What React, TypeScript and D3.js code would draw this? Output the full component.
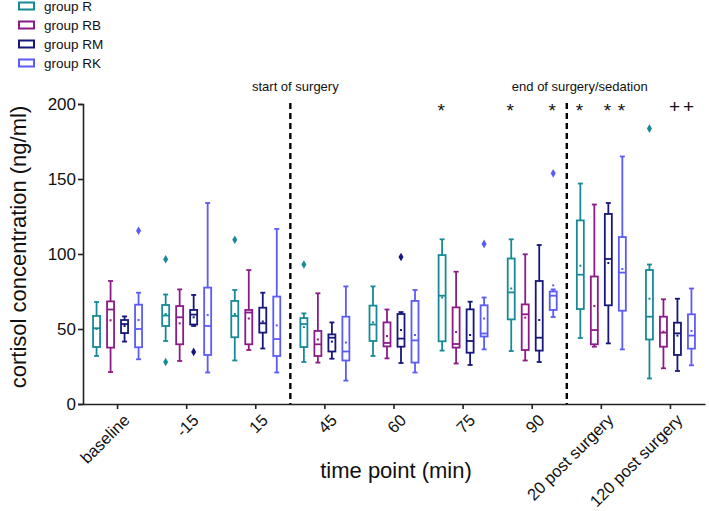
import { useEffect, useRef } from 'react';
import * as d3 from 'd3';

// time points on the x axis
const categories = ['baseline', '-15', '15', '45', '60', '75', '90', '20 post surgery', '120 post surgery'];
const groups = ['group R', 'group RB', 'group RM', 'group RK'];
const colors = ['#178a98', '#8c1b87', '#17177d', '#5b5bf7'];

// per time point: [whisker low, q1, median, q3, whisker high, mean]
const statsR = [
    [32, 38, 50.5, 58.7, 68, 50],
    [42, 52, 59, 66, 73, 60],
    [29, 44.5, 58.7, 68.7, 76, 60],
    [28, 38, 53.3, 57.3, 60.4, 51.3],
    [32, 42, 53, 65.6, 78.4, 54.4],
    [35.6, 41.8, 72.2, 99.3, 109.8, 71],
    [35.3, 56.4, 74.4, 97, 109.8, 77],
    [44, 63.3, 86.2, 122.4, 147, 92.2],
    [17, 43, 58.2, 89.3, 93, 70.2],
];
const statsRB = [
    [21.3, 37.6, 63, 68.4, 82, 55.8],
    [28.7, 39.8, 57.8, 65.3, 76.4, 53.8],
    [36, 39.8, 61, 62.7, 89.3, 57],
    [27.6, 32, 39.8, 48.7, 73.8, 43],
    [30.4, 38.4, 40.7, 54.4, 63, 45.3],
    [27, 37.6, 40, 64.4, 88.2, 48],
    [29, 36, 59.8, 66.4, 99.8, 57.6],
    [38.2, 39.8, 49.3, 85, 133, 65.3],
    [23.8, 38.2, 47.6, 58.2, 69.8, 48.2],
];
const statsRM = [
    [41.6, 47.3, 53.3, 56, 58.4, 52],
    [52, 53, 59.6, 62.7, 72.7, 57.8],
    [37, 47.6, 53.8, 64.2, 74.2, 55],
    [30.2, 35, 44.2, 46.4, 54.4, 41.6],
    [27.3, 38.2, 43.6, 60, 61.3, 49.3],
    [26, 34.2, 42, 63.1, 68.2, 46],
    [28, 35.6, 44.2, 82, 106, 56],
    [40.4, 65.8, 96.7, 126.7, 134, 94],
    [22, 32.7, 47.1, 54.2, 70.2, 45.6],
];
const statsRK = [
    [29.8, 37.8, 50, 66.2, 74.2, 56],
    [21, 32.7, 52, 77.6, 134, 59.3],
    [21, 32, 43.3, 71.6, 116.7, 52.4],
    [15.6, 29, 35, 58.2, 78.4, 41],
    [21, 27.6, 42.4, 68.7, 76, 46],
    [36.4, 45, 47, 65.8, 71, 57],
    [58, 62.7, 72.2, 75, 76.4, 79.1],
    [36.4, 62.2, 87.6, 111.3, 165, 90],
    [25.8, 36.9, 45.6, 59.8, 77, 48.7],
];
const allStats = [statsR, statsRB, statsRM, statsRK];

// outliers: [time point index, group index, value]
const outliers: [number, number, number][] = [
    [0, 3, 115.5],
    [1, 0, 96.5], [1, 0, 28], [1, 2, 34.7],
    [2, 0, 109.5],
    [3, 0, 93],
    [4, 2, 98],
    [5, 3, 106.7],
    [6, 3, 153.8],
    [8, 0, 183.6],
];

// significance marks: [time point index, group index, symbol]
const marks: [number, number, string][] = [
    [5, 0, '*'],
    [6, 0, '*'], [6, 3, '*'],
    [7, 0, '*'], [7, 2, '*'], [7, 3, '*'],
    [8, 2, '+'], [8, 3, '+'],
];

const yTicks = [0, 50, 100, 150, 200];
const phaseLabels = ['start of surgery', 'end of surgery/sedation'];
const phaseAfter = [2, 6]; // dashed line after these time points

export default function App() {
    const svgRef = useRef<SVGSVGElement>(null);
    const width = 709;
    const height = 511;
    const font = 'Arial, "Liberation Sans", sans-serif';

    useEffect(() => {
        if (!svgRef.current) return;
        const svg = d3.select(svgRef.current);
        svg.selectAll('*').remove();

        const x = d3.scaleBand().domain(categories).range([83, 705]);
        const y = d3.scaleLinear().domain([0, 200]).range([404, 104]);
        const offsets = [-21, -7, 7, 21];
        const cx = (ci: number, gi: number) => (x(categories[ci]) as number) + x.bandwidth() / 2 + offsets[gi];

        // axes
        const yAxis = svg.append('g')
            .attr('transform', 'translate(83,0)')
            .call(d3.axisLeft(y).tickValues(yTicks).tickSize(5).tickPadding(2));
        yAxis.select('.domain').attr('stroke', '#222').attr('stroke-width', 1.6);
        yAxis.selectAll('.tick line').attr('stroke', '#222').attr('stroke-width', 1.6);
        yAxis.selectAll('.tick text').attr('font-size', 17).attr('font-family', font).attr('fill', '#111');

        const xAxis = svg.append('g')
            .attr('transform', 'translate(0,404)')
            .call(d3.axisBottom(x).tickSize(5).tickSizeOuter(0));
        xAxis.select('.domain').attr('stroke', '#222').attr('stroke-width', 1.6);
        xAxis.selectAll('.tick line').attr('stroke', '#222').attr('stroke-width', 1.6);
        xAxis.selectAll('.tick text')
            .attr('font-size', 16.5)
            .attr('font-family', font)
            .attr('fill', '#111')
            .attr('text-anchor', 'end')
            .attr('dy', '0.3em')
            .attr('transform', 'translate(4,8) rotate(-45)');

        // dashed phase lines + labels
        phaseAfter.forEach((ci, i) => {
            const lx = (x(categories[ci]) as number) + x.bandwidth();
            svg.append('line')
                .attr('x1', lx).attr('x2', lx)
                .attr('y1', 103).attr('y2', 404)
                .attr('stroke', '#000')
                .attr('stroke-width', 2.4)
                .attr('stroke-dasharray', '6,4');
            svg.append('text')
                .attr('x', lx + (i === 0 ? 5 : 13))
                .attr('y', 91)
                .attr('text-anchor', 'middle')
                .attr('font-size', 13)
                .attr('font-family', font)
                .attr('fill', '#111')
                .text(phaseLabels[i]);
        });

        // boxes
        const boxW = 7;
        const capW = 5;
        allStats.forEach((stats, gi) => {
            const col = colors[gi];
            const g = svg.append('g').attr('stroke', col).attr('fill', 'none').attr('stroke-width', 1.8);
            stats.forEach((s, ci) => {
                const [lo, q1, med, q3, hi, mean] = s;
                const c = cx(ci, gi);
                g.append('line').attr('x1', c).attr('x2', c).attr('y1', y(hi)).attr('y2', y(q3));
                g.append('line').attr('x1', c).attr('x2', c).attr('y1', y(q1)).attr('y2', y(lo));
                g.append('line').attr('x1', c - capW / 2).attr('x2', c + capW / 2).attr('y1', y(hi)).attr('y2', y(hi));
                g.append('line').attr('x1', c - capW / 2).attr('x2', c + capW / 2).attr('y1', y(lo)).attr('y2', y(lo));
                g.append('rect')
                    .attr('x', c - boxW / 2).attr('width', boxW)
                    .attr('y', y(q3)).attr('height', y(q1) - y(q3));
                g.append('line').attr('x1', c - boxW / 2).attr('x2', c + boxW / 2).attr('y1', y(med)).attr('y2', y(med));
                svg.append('rect')
                    .attr('x', c - 1).attr('y', y(mean) - 1)
                    .attr('width', 2).attr('height', 2)
                    .attr('fill', col);
            });
        });

        // outliers
        const diamond = d3.symbol().type(d3.symbolDiamond).size(22);
        svg.selectAll('path.outlier')
            .data(outliers)
            .enter()
            .append('path')
            .attr('class', 'outlier')
            .attr('d', diamond)
            .attr('transform', d => `translate(${cx(d[0], d[1])},${y(d[2])})`)
            .attr('fill', d => colors[d[1]]);

        // significance marks
        svg.selectAll('text.mark')
            .data(marks)
            .enter()
            .append('text')
            .attr('class', 'mark')
            .attr('x', d => cx(d[0], d[1]) - (d[2] === '+' ? 3 : 1))
            .attr('y', d => (d[2] === '*' ? 117 : 112.5))
            .attr('text-anchor', 'middle')
            .attr('font-size', 19)
            .attr('font-family', font)
            .attr('fill', '#111')
            .text(d => d[2]);

        // axis titles
        svg.append('text')
            .attr('transform', 'translate(26,247) rotate(-90)')
            .attr('text-anchor', 'middle')
            .attr('font-size', 22)
            .attr('font-family', font)
            .attr('fill', '#111')
            .text('cortisol concentration (ng/ml)');
        svg.append('text')
            .attr('x', 396)
            .attr('y', 478)
            .attr('text-anchor', 'middle')
            .attr('font-size', 22)
            .attr('font-family', font)
            .attr('fill', '#111')
            .text('time point (min)');

        // legend
        const legend = svg.append('g');
        groups.forEach((name, gi) => {
            const ly = 6 + gi * 19;
            legend.append('rect')
                .attr('x', 19).attr('y', ly - 3.5)
                .attr('width', 15).attr('height', 7)
                .attr('fill', 'none')
                .attr('stroke', colors[gi])
                .attr('stroke-width', 2);
            legend.append('text')
                .attr('x', 44).attr('y', ly)
                .attr('dy', '0.35em')
                .attr('font-size', 13.5)
                .attr('font-family', font)
                .attr('fill', '#111')
                .text(name);
        });
    }, []);

    return (
        <svg
            ref={svgRef}
            width={width}
            height={height}
            viewBox={`0 0 ${width} ${height}`}
            style={{ position: 'absolute', left: 0, top: 0, background: '#fff' }}
        />
    );
}
